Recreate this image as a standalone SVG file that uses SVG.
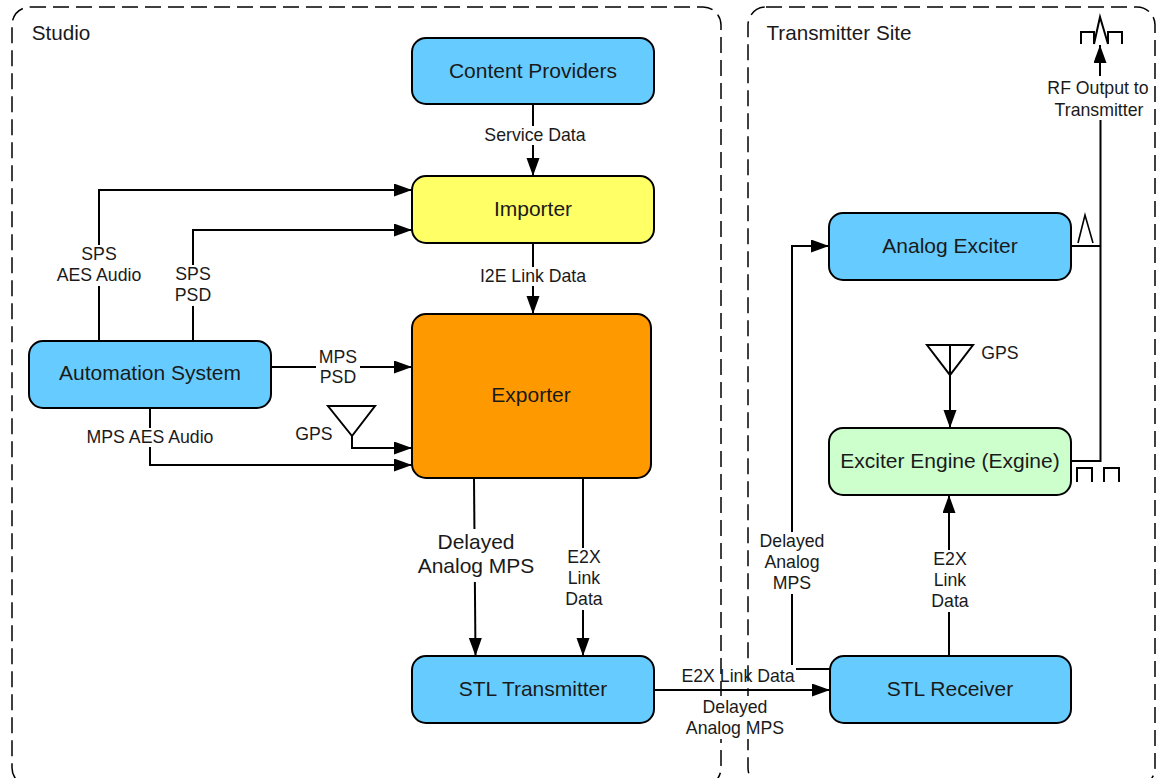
<svg xmlns="http://www.w3.org/2000/svg" width="1159" height="778" viewBox="0 0 1159 778">
<style>
text{font-family:"Liberation Sans",Arial,sans-serif;fill:#1a1a1a;text-anchor:middle}
.n{font-size:21px}.l{font-size:17.700px}.t{font-size:20.700px}
.box{stroke:#000;stroke-width:2}
.blue{fill:#66ccff}
.c{fill:none;stroke:#000;stroke-width:2}
.a{marker-end:url(#ah)}
.g{fill:none;stroke:#000;stroke-width:2}
.zone{fill:none;stroke:#000;stroke-width:1.500;stroke-dasharray:16 7}
.bg{fill:#fff;stroke:none}
</style>
<defs><marker id="ah" markerUnits="userSpaceOnUse" markerWidth="19" markerHeight="14" refX="18" refY="6.500" orient="auto"><path d="M0 0L18 6.500L0 13Z" fill="#000"/></marker></defs>
<rect width="1159" height="778" fill="#fff"/>
<g id="zones">
<rect class="zone" x="12" y="7" width="709" height="779" rx="18"/>
<rect class="zone" x="748" y="7" width="407" height="779" rx="18"/>
<text class="t" x="61" y="40">Studio</text>
<text class="t" x="839" y="40">Transmitter Site</text>
</g>
<g id="connectors">
<path class="c a" d="M533 104V176"/>
<path class="c a" d="M99 341V190H412"/>
<path class="c a" d="M193 341V230H412"/>
<path class="c a" d="M533 243V314"/>
<path class="c a" d="M271 367H412"/>
<path class="c a" d="M150 408V465H412"/>
<path class="c a" d="M352 436V448H412"/>
<path class="c a" d="M474 478L475.500 656"/>
<path class="c a" d="M583 478V656"/>
<path class="c a" d="M654 690H830"/>
<path class="c" d="M830 669H796"/>
<path class="c a" d="M792 665V246H829"/>
<path class="c a" d="M949 656V495"/>
<path class="c a" d="M950 345V428"/>
<path class="c" d="M1071 246H1100"/>
<path class="c" d="M1071 461H1100.500V120"/>
<path class="c a" d="M1100 76V45"/>
<rect class="bg" x="482" y="126" width="106" height="19"/>
<rect class="bg" x="476" y="267" width="114" height="19"/>
<rect class="bg" x="53" y="245" width="92" height="41"/>
<rect class="bg" x="170" y="265" width="46" height="41"/>
<rect class="bg" x="316" y="348" width="44" height="40"/>
<rect class="bg" x="83" y="428" width="134" height="19"/>
<rect class="bg" x="415" y="529" width="122" height="53"/>
<rect class="bg" x="562" y="548" width="44" height="62"/>
<rect class="bg" x="758" y="532" width="68" height="62"/>
<rect class="bg" x="930" y="550" width="40" height="62"/>
<rect class="bg" x="684" y="696" width="102" height="43"/>
</g>
<g id="content-providers"><rect class="box blue" x="412" y="38" width="242" height="66" rx="14"/><text class="n" x="533" y="78">Content Providers</text></g>
<g id="importer"><rect class="box" fill="#ffff66" x="412" y="176" width="242" height="67" rx="14"/><text class="n" x="533" y="216">Importer</text></g>
<g id="exporter"><rect class="box" fill="#ff9900" x="412" y="314" width="239" height="164" rx="14"/><text class="n" x="531" y="402">Exporter</text></g>
<g id="automation-system"><rect class="box blue" x="29" y="341" width="242" height="67" rx="14"/><text class="n" x="150" y="380">Automation System</text></g>
<g id="stl-transmitter"><rect class="box blue" x="412" y="656" width="242" height="67" rx="14"/><text class="n" x="533" y="696">STL Transmitter</text></g>
<g id="stl-receiver"><rect class="box blue" x="830" y="656" width="241" height="67" rx="14"/><text class="n" x="950" y="696">STL Receiver</text></g>
<g id="analog-exciter"><rect class="box blue" x="829" y="213" width="242" height="67" rx="14"/><text class="n" x="950" y="253">Analog Exciter</text></g>
<g id="exciter-engine"><rect class="box" fill="#ccffcc" x="829" y="428" width="242" height="67" rx="14"/><text class="n" x="950" y="468">Exciter Engine (Exgine)</text></g>
<g id="gps-left"><path class="g" d="M328 406H375L352 436Z"/><text class="l" x="314" y="440">GPS</text></g>
<g id="gps-right"><path class="g" d="M927 345H973L950 375Z"/><text class="l" x="1000" y="359">GPS</text></g>
<g id="rf-symbols">
<path class="g" d="M1081 44V32H1094V44M1108 44V32H1122V44M1094 44L1100 17L1108 44"/>
<path class="g" d="M1078 243L1085 215L1093 243" style="stroke-width:1.600"/>
<path class="g" d="M1077 482V468H1092V482M1104 482V468H1119V482"/>
</g>
<g id="labels">
<text class="l" x="535" y="141">Service Data</text>
<text class="l" x="533" y="282">I2E Link Data</text>
<text class="l" x="99" y="260">SPS</text><text class="l" x="99" y="281">AES Audio</text>
<text class="l" x="193" y="280">SPS</text><text class="l" x="193" y="301">PSD</text>
<text class="l" x="338" y="363">MPS</text><text class="l" x="338" y="383">PSD</text>
<text class="l" x="150" y="443">MPS AES Audio</text>
<text class="n" x="476" y="549">Delayed</text><text class="n" x="476" y="573">Analog MPS</text>
<text class="l" x="584" y="563">E2X</text><text class="l" x="584" y="584">Link</text><text class="l" x="584" y="605">Data</text>
<text class="l" x="792" y="547">Delayed</text><text class="l" x="792" y="568">Analog</text><text class="l" x="792" y="589">MPS</text>
<text class="l" x="950" y="565">E2X</text><text class="l" x="950" y="586">Link</text><text class="l" x="950" y="607">Data</text>
<text class="l" x="738" y="682">E2X Link Data</text>
<text class="l" x="735" y="713">Delayed</text><text class="l" x="735" y="734">Analog MPS</text>
<text class="l" x="1098" y="94">RF Output to</text><text class="l" x="1099" y="116">Transmitter</text>
</g>
</svg>
